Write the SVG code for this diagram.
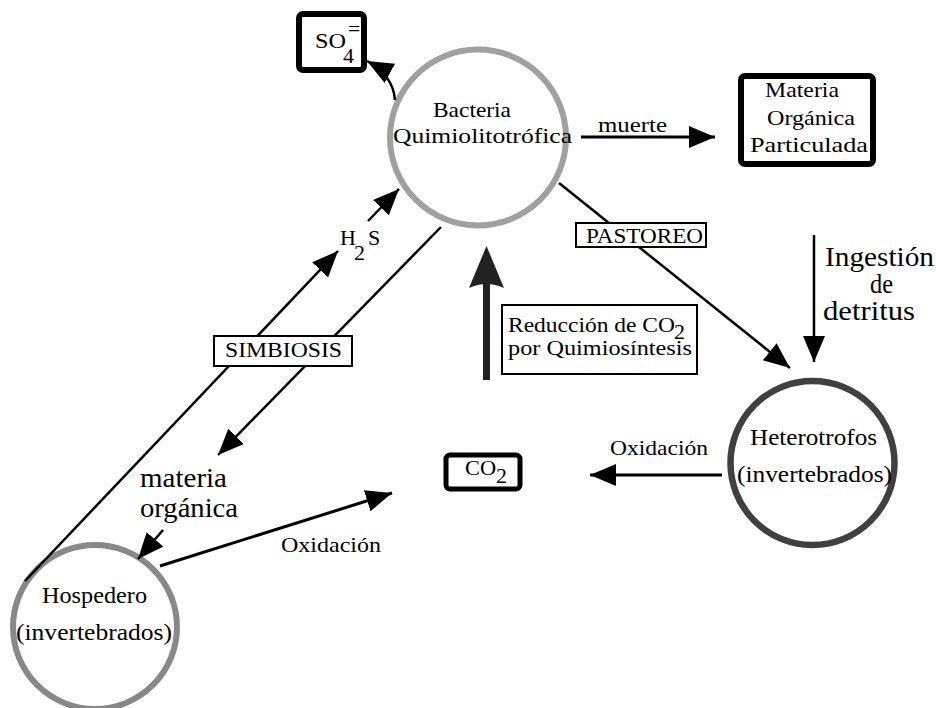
<svg xmlns="http://www.w3.org/2000/svg" width="936" height="708" viewBox="0 0 936 708" font-family="'Liberation Serif', 'DejaVu Serif', serif">
<style>
text{font-family:'Liberation Serif','DejaVu Serif',serif;fill:#000}
.t22{font-size:22px}
.t24{font-size:24px}
.t28{font-size:27px}
.ring{fill:#fff}
.box{fill:#fff;stroke:#000}
.thick{stroke-width:6}
.thin{stroke-width:2}
.con{fill:none;stroke:#000;stroke-width:2.5}
</style>
<defs>
<marker id="ah" markerUnits="userSpaceOnUse" markerWidth="28" markerHeight="24" refX="26" refY="11" orient="auto">
<path d="M0,0 L26,11 L0,22 Z" fill="#000"/>
</marker>
</defs>

<g id="bacteria">
<circle class="ring" cx="478" cy="137.5" r="88" stroke="#a0a0a0" stroke-width="6"/>
<text class="t22" x="433" y="117" textLength="78" lengthAdjust="spacingAndGlyphs">Bacteria</text>
<text class="t22" x="393" y="143" textLength="179" lengthAdjust="spacingAndGlyphs">Quimiolitotrófica</text>
</g>
<g id="heterotrofos">
<circle class="ring" cx="812.5" cy="463" r="82" stroke="#404040" stroke-width="6.5"/>
<text class="t24" x="750" y="445" textLength="127" lengthAdjust="spacingAndGlyphs">Heterotrofos</text>
<text class="t24" x="737" y="482" textLength="155" lengthAdjust="spacingAndGlyphs">(invertebrados)</text>
</g>
<g id="hospedero">
<circle class="ring" cx="95" cy="627" r="82" stroke="#888" stroke-width="6"/>
<text class="t24" x="42" y="603" textLength="105" lengthAdjust="spacingAndGlyphs">Hospedero</text>
<text class="t24" x="16" y="640" textLength="156" lengthAdjust="spacingAndGlyphs">(invertebrados)</text>
</g>

<g id="connectors">
<path class="con" d="M395,100 Q393,75 367,61" marker-end="url(#ah)"/>
<path class="con" style="stroke-width:3" d="M581,137 L715,137" marker-end="url(#ah)"/>
<path class="con" d="M559,183 L790,368" marker-end="url(#ah)"/>
<path class="con" d="M814,235 L814,362" marker-end="url(#ah)"/>
<path class="con" style="stroke-width:3" d="M722,475 L590,475" marker-end="url(#ah)"/>
<path class="con" style="stroke-width:3" d="M160,566 L392,493" marker-end="url(#ah)"/>
<path class="con" d="M163,530 L138,559" marker-end="url(#ah)"/>
<path class="con" d="M441,227 L218,455" marker-end="url(#ah)"/>
<path class="con" d="M25,581 L338,251" marker-end="url(#ah)"/>
<path class="con" d="M368,221 L399,189" marker-end="url(#ah)"/>
<g id="reduccion-arrow" fill="#222">
<rect x="483" y="284" width="7" height="96"/>
<path d="M486.5,246 L504,288 Q486.5,280 469,288 Z"/>
</g>
</g>

<g id="labels">
<text class="t22" x="598" y="132" textLength="69" lengthAdjust="spacingAndGlyphs">muerte</text>
<text class="t28" x="825" y="266" textLength="109" lengthAdjust="spacingAndGlyphs">Ingestión</text>
<text class="t28" x="870" y="293" textLength="23" lengthAdjust="spacingAndGlyphs">de</text>
<text class="t28" x="823" y="320" textLength="92" lengthAdjust="spacingAndGlyphs">detritus</text>
<text class="t28" x="140" y="487" textLength="87" lengthAdjust="spacingAndGlyphs">materia</text>
<text class="t28" x="140" y="517" textLength="98" lengthAdjust="spacingAndGlyphs">orgánica</text>
<text class="t22" x="281" y="552" textLength="100" lengthAdjust="spacingAndGlyphs">Oxidación</text>
<text class="t22" x="610" y="455" textLength="98" lengthAdjust="spacingAndGlyphs">Oxidación</text>
<g id="h2s">
<text class="t22" x="340" y="245">H</text>
<text class="t22" x="354" y="260">2</text>
<text class="t22" x="368" y="245">S</text>
</g>
</g>

<g id="so4">
<rect class="box thick" x="299" y="14" width="65" height="56" rx="4"/>
<text class="t22" x="315" y="48" textLength="31" lengthAdjust="spacingAndGlyphs">SO</text>
<text class="t22" x="343" y="63">4</text>
<text class="t22" x="348" y="36">=</text>
</g>
<g id="materia-organica-particulada">
<rect class="box thick" x="741" y="76" width="132" height="88" rx="4"/>
<text class="t22" x="765" y="97" textLength="74" lengthAdjust="spacingAndGlyphs">Materia</text>
<text class="t22" x="767" y="125" textLength="88" lengthAdjust="spacingAndGlyphs">Orgánica</text>
<text class="t22" x="750" y="152" textLength="118" lengthAdjust="spacingAndGlyphs">Particulada</text>
</g>
<g id="co2">
<rect class="box" style="stroke-width:5" x="446" y="455" width="74" height="34" rx="4"/>
<text class="t22" x="465" y="475" textLength="31" lengthAdjust="spacingAndGlyphs">CO</text>
<text class="t22" x="496" y="483">2</text>
</g>
<g id="pastoreo">
<rect class="box thin" x="576" y="223" width="130" height="24"/>
<text class="t22" x="586" y="243" textLength="117" lengthAdjust="spacingAndGlyphs">PASTOREO</text>
</g>
<g id="reduccion">
<rect class="box thin" x="502" y="305" width="195" height="69"/>
<text class="t22" x="508" y="332" textLength="167" lengthAdjust="spacingAndGlyphs">Reducción de CO</text>
<text class="t22" x="674" y="339">2</text>
<text class="t22" x="508" y="355" textLength="184" lengthAdjust="spacingAndGlyphs">por Quimiosíntesis</text>
</g>
<g id="simbiosis">
<rect class="box thin" x="214" y="336" width="138" height="30"/>
<text class="t22" x="225" y="357" textLength="117" lengthAdjust="spacingAndGlyphs">SIMBIOSIS</text>
</g>
</svg>
